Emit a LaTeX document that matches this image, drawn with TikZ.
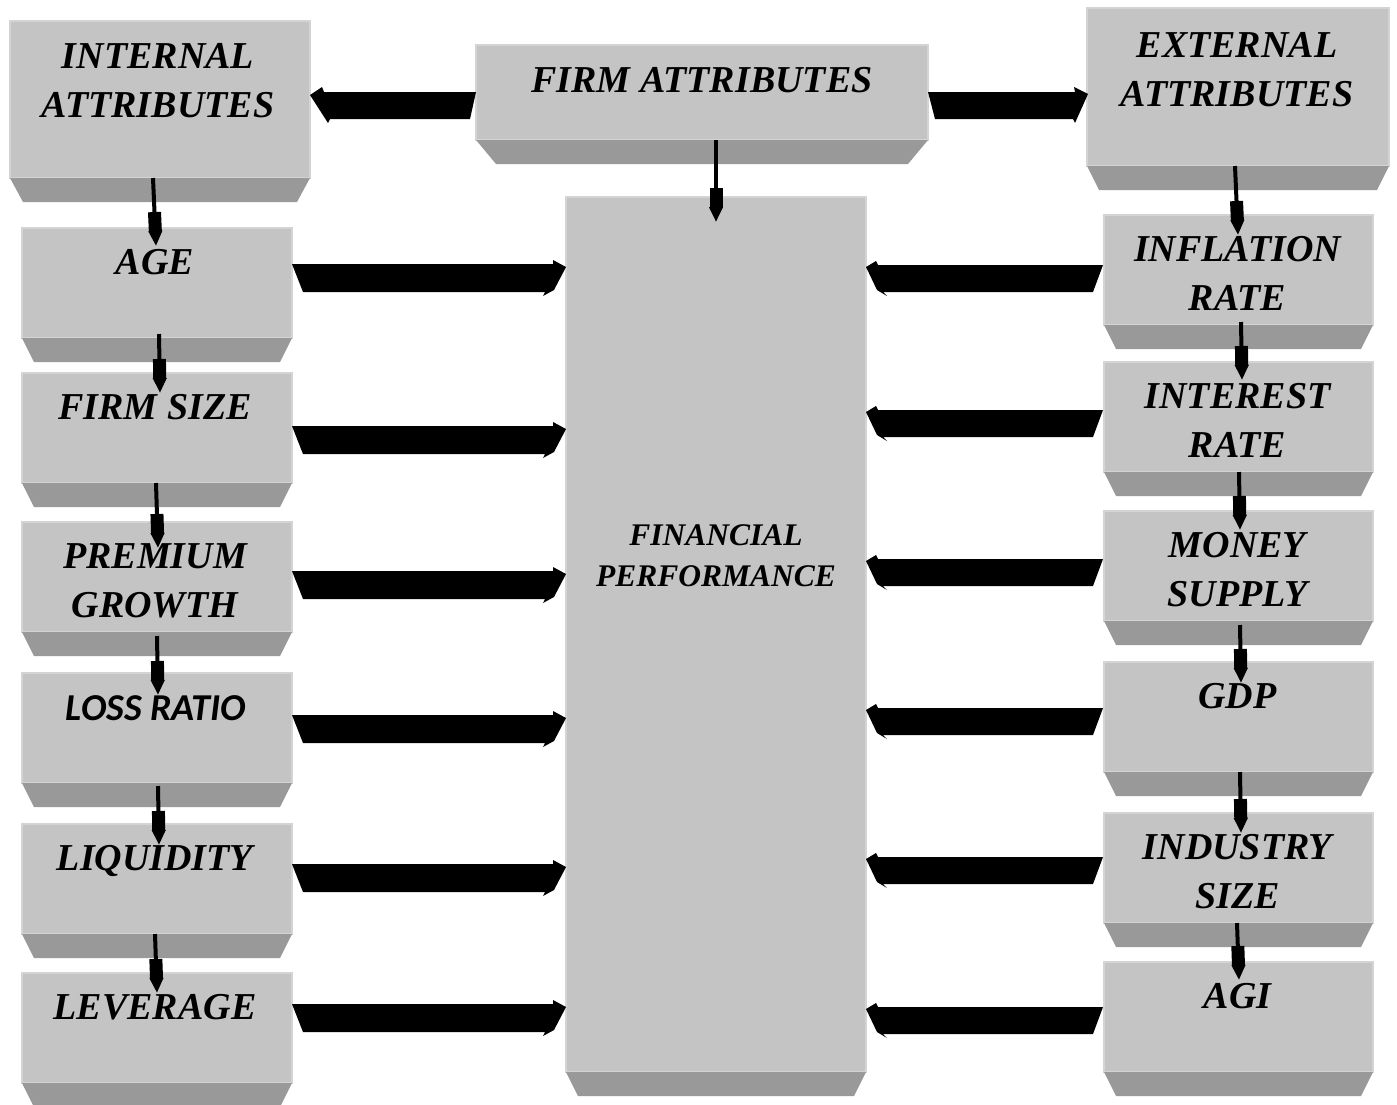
\documentclass[tikz,border=0pt]{standalone}
\usepackage{fontspec}
\setmainfont{Liberation Serif}
\newfontfamily\carlitofont{Carlito}
\usetikzlibrary{calc,arrows.meta}
\definecolor{facegray}{RGB}{196,196,196}
\definecolor{rimgray}{RGB}{212,212,212}
\definecolor{bevelgray}{RGB}{153,153,153}
\tikzset{
  face/.style={rectangle, fill=facegray, draw=rimgray, line width=1.2pt, inner sep=0pt, outer sep=0pt, anchor=north west},
  lbl/.style={anchor=north, inner sep=0pt, align=center, font=\fontsize{38}{49}\selectfont\bfseries\itshape},
  sanslbl/.style={anchor=north, inner sep=0pt, align=center, font=\carlitofont\fontsize{38}{49}\selectfont\bfseries\itshape},
  finlbl/.style={anchor=north, inner sep=0pt, align=center, font=\fontsize{31.5}{41}\selectfont\bfseries\itshape},
  bevelfill/.style={fill=bevelgray},
  block/.style={fill=black},
  thinarrow/.style={line width=4pt, -{Rectangle[length=20pt,width=13pt,sep=-1pt]Triangle[length=15pt,width=13pt]}}
}
\newcommand\drawbevel[2]{\fill[bevelfill] (#1.south west) -- (#1.south east) -- ($(#1.south east)+(-#2,24)$) -- ($(#1.south west)+(#2,24)$) -- cycle;}
% left-to-right block arrow: from #1 (east) to #2 (west), shaft top y #3
\newcommand\blockLR[3]{\fill[block] (#1.east |- 0,#3) -- ($(#2.west |- 0,#3)+(-13,0)$) -- ($(#2.west |- 0,#3)+(-13,-4)$) -- ($(#2.west |- 0,#3)+(0,3)$) -- ($(#2.west |- 0,#3)+(-12,26)$) -- ($(#2.west |- 0,#3)+(-23,32)$) -- ($(#2.west |- 0,#3)+(-21,28)$) -- ($(#1.east |- 0,#3)+(11,28)$) -- cycle;}
% right-to-left block arrow: from #1 (west) to #2 (east), shaft top y #3
\newcommand\blockRL[3]{\fill[block] ($(#1.west |- 0,#3)+(-1,0)$) -- ($(#2.east |- 0,#3)+(12,0)$) -- ($(#2.east |- 0,#3)+(10,-4)$) -- ($(#2.east |- 0,#3)+(0,2)$) -- ($(#2.east |- 0,#3)+(11,25)$) -- ($(#2.east |- 0,#3)+(21,31)$) -- ($(#2.east |- 0,#3)+(17,27)$) -- ($(#1.west |- 0,#3)+(-11,27)$) -- cycle;}
\begin{document}
\begin{tikzpicture}[x=1pt,y=-1pt]
\useasboundingbox (0,0) rectangle (1397,1104);
% top row
\node[face, minimum width=300pt, minimum height=157pt] (internal) at (10,21) {};
\node[face, minimum width=452pt, minimum height=95pt] (firm) at (476,45) {};
\node[face, minimum width=302pt, minimum height=158pt] (external) at (1087,8) {};
% centre
\node[face, minimum width=300pt, minimum height=875pt] (fin) at (566,197) {};
% left column
\node[face, minimum width=270pt, minimum height=110pt] (age) at (22,228) {};
\node[face, minimum width=270pt, minimum height=110pt] (size) at (22,373) {};
\node[face, minimum width=270pt, minimum height=110pt] (prem) at (22,522) {};
\node[face, minimum width=270pt, minimum height=110pt] (loss) at (22,673) {};
\node[face, minimum width=270pt, minimum height=110pt] (liq) at (22,824) {};
\node[face, minimum width=270pt, minimum height=110pt] (lev) at (22,973) {};
% right column
\node[face, minimum width=269pt, minimum height=110pt] (infl) at (1104,215) {};
\node[face, minimum width=269pt, minimum height=110pt] (int) at (1104,362) {};
\node[face, minimum width=269pt, minimum height=110pt] (money) at (1104,511) {};
\node[face, minimum width=269pt, minimum height=110pt] (gdp) at (1104,662) {};
\node[face, minimum width=269pt, minimum height=110pt] (ind) at (1104,813) {};
\node[face, minimum width=269pt, minimum height=110pt] (agi) at (1104,962) {};
% bevels
\drawbevel{internal}{13}
\drawbevel{firm}{20}
\drawbevel{external}{12}
\drawbevel{fin}{12}
\foreach \b in {age,size,prem,loss,liq,lev,infl,int,money,gdp,ind,agi}{\drawbevel{\b}{12}}
% labels
\node[lbl] (t-internal) at ($(internal.north)+(-2,22)$) {INTERNAL\\ATTRIBUTES};
\node[lbl] (t-firm) at ($(firm.north)+(0,22)$) {FIRM ATTRIBUTES};
\node[lbl] (t-external) at ($(external.north)+(-1,24)$) {EXTERNAL\\ATTRIBUTES};
\node[finlbl] (t-fin) at ($(fin.north)+(0,327)$) {FINANCIAL\\PERFORMANCE};
\node[lbl] (t-age) at ($(age.north)+(-2,21)$) {AGE};
\node[lbl] (t-size) at ($(size.north)+(-2,21)$) {FIRM SIZE};
\node[lbl] (t-prem) at ($(prem.north)+(-2,21)$) {PREMIUM\\GROWTH};
\node[sanslbl] (t-loss) at ($(loss.north)+(-1,22)$) {LOSS RATIO};
\node[lbl] (t-liq) at ($(liq.north)+(-2,21)$) {LIQUIDITY};
\node[lbl] (t-lev) at ($(lev.north)+(-2,21)$) {LEVERAGE};
\node[lbl] (t-infl) at ($(infl.north)+(-1,21)$) {INFLATION\\RATE};
\node[lbl] (t-int) at ($(int.north)+(-1,21)$) {INTEREST\\RATE};
\node[lbl] (t-money) at ($(money.north)+(-1,21)$) {MONEY\\SUPPLY};
\node[lbl] (t-gdp) at ($(gdp.north)+(-1,21)$) {GDP};
\node[lbl] (t-ind) at ($(ind.north)+(-1,21)$) {INDUSTRY\\SIZE};
\node[lbl] (t-agi) at ($(agi.north)+(-1,21)$) {AGI};
% big block arrows
\fill[block] (firm.west |- 0,92) -- ($(firm.west |- 0,92)+(-6,27)$) -- ($(internal.east |- 0,92)+(20,27)$) -- ($(internal.east |- 0,92)+(18,31)$) -- ($(internal.east |- 0,92)+(0,3)$) -- ($(internal.east |- 0,92)+(12,-5)$) -- ($(internal.east |- 0,92)+(14,0)$) -- cycle;
\fill[block] (firm.east |- 0,92) -- ($(external.west |- 0,92)+(-12,0)$) -- ($(external.west |- 0,92)+(-13,-5)$) -- ($(external.west |- 0,92)+(1,2)$) -- ($(external.west |- 0,92)+(-12,31)$) -- ($(external.west |- 0,92)+(-14,27)$) -- ($(firm.east |- 0,92)+(7,27)$) -- cycle;
\blockLR{age}{fin}{264}
\blockLR{size}{fin}{426}
\blockLR{prem}{fin}{571}
\blockLR{loss}{fin}{715}
\blockLR{liq}{fin}{864}
\blockLR{lev}{fin}{1004}
\blockRL{infl}{fin}{265}
\blockRL{int}{fin}{410}
\blockRL{money}{fin}{559}
\blockRL{gdp}{fin}{708}
\blockRL{ind}{fin}{857}
\blockRL{agi}{fin}{1007}
% small arrows
\draw[thinarrow] (internal.south -| 153,0) -- ($(age.north -| 156,0)+(0,18)$);
\draw[thinarrow] ($(age.south -| 159,0)+(0,-4)$) -- ($(size.north -| 160,0)+(0,20)$);
\draw[thinarrow] (size.south -| 156,0) -- ($(prem.north -| 158,0)+(0,26)$);
\draw[thinarrow] ($(prem.south -| 157,0)+(0,4)$) -- ($(loss.north -| 158,0)+(0,22)$);
\draw[thinarrow] ($(loss.south -| 158,0)+(0,3)$) -- ($(liq.north -| 159,0)+(0,21)$);
\draw[thinarrow] (liq.south -| 155,0) -- ($(lev.north -| 157,0)+(0,20)$);
\draw[thinarrow] (firm.south -| 716,0) -- ($(fin.north -| 716,0)+(0,25)$);
\draw[thinarrow] (external.south -| 1235,0) -- ($(infl.north -| 1238,0)+(0,20)$);
\draw[thinarrow] ($(infl.south -| 1241,0)+(0,-3)$) -- ($(int.north -| 1242,0)+(0,18)$);
\draw[thinarrow] (int.south -| 1239,0) -- ($(money.north -| 1240,0)+(0,19)$);
\draw[thinarrow] ($(money.south -| 1240,0)+(0,4)$) -- ($(gdp.north -| 1241,0)+(0,21)$);
\draw[thinarrow] (gdp.south -| 1240,0) -- ($(ind.north -| 1241,0)+(0,20)$);
\draw[thinarrow] (ind.south -| 1237,0) -- ($(agi.north -| 1239,0)+(0,18)$);
\end{tikzpicture}
\end{document}
